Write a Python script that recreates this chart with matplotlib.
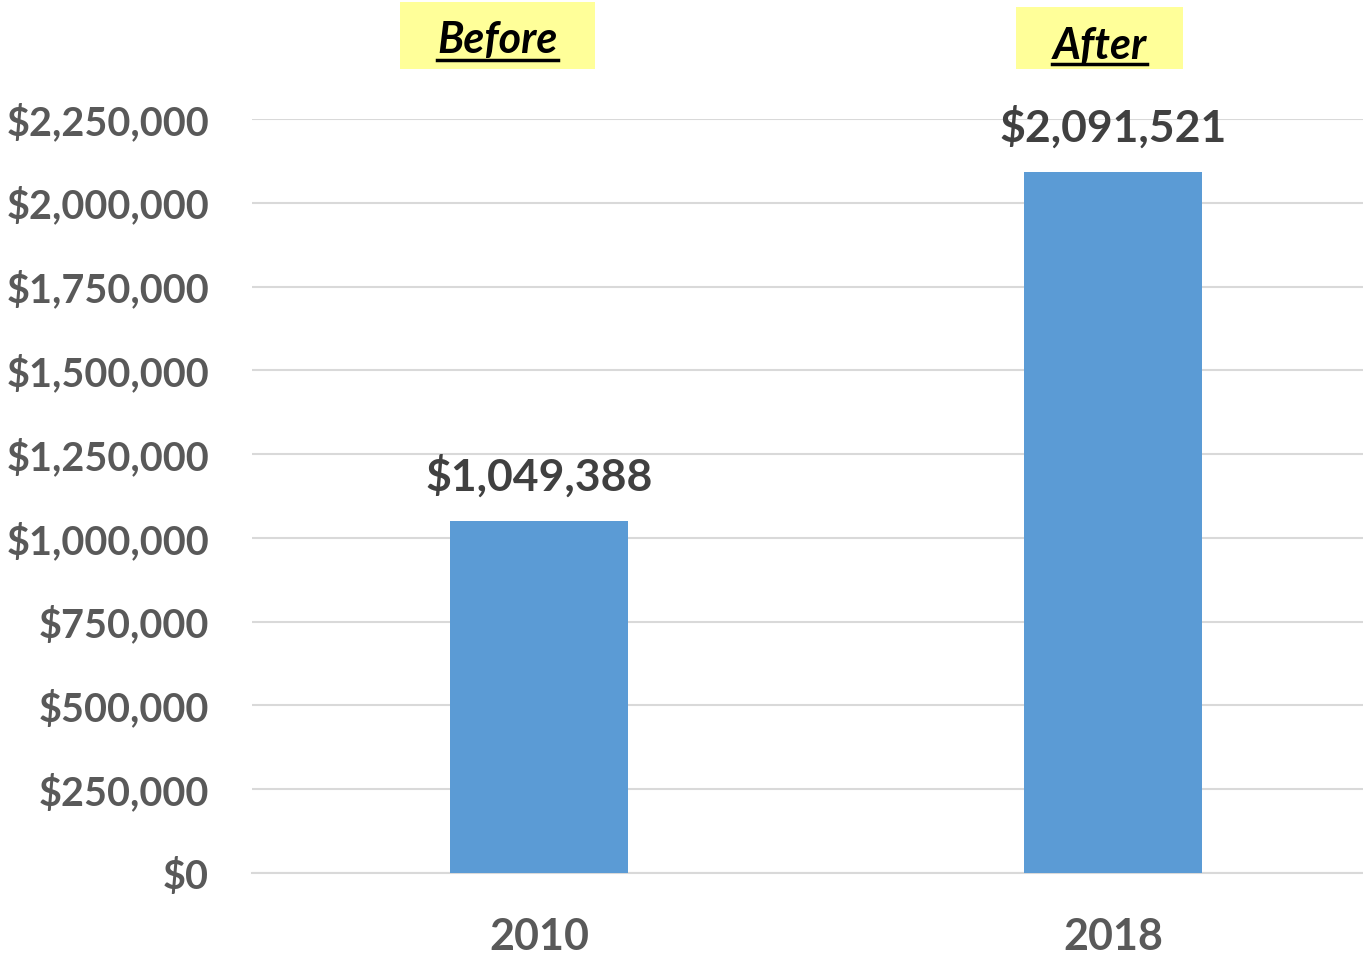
import numpy as np
import matplotlib
matplotlib.use("Agg")
import matplotlib.pyplot as plt
from matplotlib.patches import Rectangle
from matplotlib.lines import Line2D
from matplotlib.ticker import FuncFormatter

# data
years = ["2010", "2018"]
values = [1049388, 2091521]
tags = ["Before", "After"]

W, H = 1363, 957

def main():
    plt.rcParams['font.family'] = ['Lato', 'DejaVu Sans']
    fig = plt.figure(figsize=(W / 100, H / 100), dpi=100)
    # axes in pixels: left 252, bottom 873, top 119; width covers two category slots
    ax = fig.add_axes([252 / W, 1 - 873 / H, 1148 / W, (873 - 119) / H])

    x = np.arange(len(years))
    ax.bar(x, values, width=0.31, color="#5B9BD5", zorder=3)
    ax.set_xlim(-0.5, 1.5)
    ax.set_ylim(0, 2250000)
    ax.set_yticks(np.arange(0, 2250001, 250000))
    ax.yaxis.set_major_formatter(FuncFormatter(lambda v, p: "${:,.0f}".format(v)))
    ax.set_xticks(x)
    ax.set_xticklabels(years)
    ax.grid(axis="y", color="#D9D9D9", linewidth=1.5, zorder=0)
    for s in ["top", "right", "left"]:
        ax.spines[s].set_visible(False)
    ax.spines["bottom"].set_color("#D9D9D9")
    ax.spines["bottom"].set_linewidth(1.5)
    ax.tick_params(axis="y", length=0, colors="#595959", labelsize=28.5, pad=31)
    ax.tick_params(axis="x", length=0, colors="#595959", labelsize=31, pad=32)
    for lab in ax.get_yticklabels() + ax.get_xticklabels():
        lab.set_fontweight("bold")

    for xi, v in zip(x, values):
        ax.annotate("${:,.0f}".format(v), (xi, v), xytext=(0, 22), textcoords="offset points",
                    ha="center", va="baseline", fontsize=32, fontweight="bold", color="#404040")

    # yellow tag boxes above the chart
    boxes = [(400, 2, 595, 69), (1016, 7, 1183, 69)]
    baselines = [53, 59]
    underlines = [60, 64]
    texts = []
    for tag, (x0, y0, x1, y1), yb in zip(tags, boxes, baselines):
        fig.patches.append(Rectangle((x0 / W, 1 - y1 / H), (x1 - x0) / W, (y1 - y0) / H,
                                     transform=fig.transFigure, facecolor="#FFFF99",
                                     edgecolor="none"))
        t = fig.text((x0 + x1) / 2 / W, 1 - yb / H, tag, ha="center", va="baseline",
                     fontsize=31, fontweight="bold", fontstyle="italic", color="black")
        texts.append(t)

    fig.canvas.draw()
    r = fig.canvas.get_renderer()
    for t, yu in zip(texts, underlines):
        bb = t.get_window_extent(r)
        yline = 1 - yu / H
        fig.lines.append(Line2D([bb.x0 / W, bb.x1 / W], [yline, yline],
                                transform=fig.transFigure, color="black", linewidth=2.5))

    fig.savefig("out.png", dpi=100)

if __name__ == "__main__":
    main()
